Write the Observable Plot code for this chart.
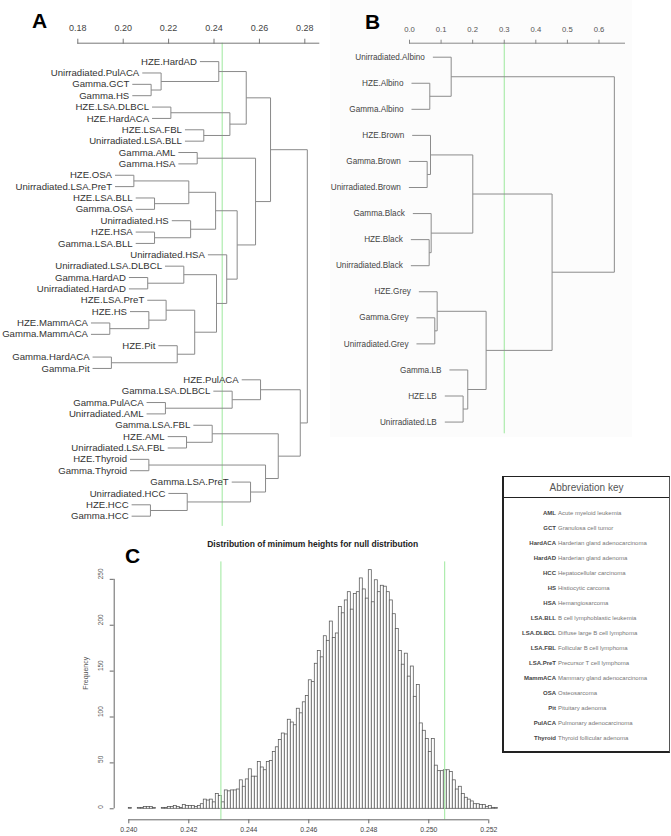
<!DOCTYPE html>
<html><head><meta charset="utf-8">
<script src="https://cdn.jsdelivr.net/npm/d3@7"></script>
<script src="https://cdn.jsdelivr.net/npm/@observablehq/plot@0.6"></script>
<style>
body{margin:0;background:#fff;font-family:'Liberation Sans',Arial,Helvetica,sans-serif;}
#root{position:relative;width:671px;height:836px;overflow:hidden;background:#fff;}
.abs{position:absolute;}
.plabel{position:absolute;font-weight:bold;font-size:21px;line-height:1;color:#000;}
#title{position:absolute;left:312.7px;top:539.8px;transform:translateX(-50%);white-space:nowrap;font-weight:bold;font-size:8.5px;line-height:1;color:#222;}
#key{position:absolute;left:502px;top:476px;width:168px;height:277px;box-sizing:border-box;border-top:1px solid #222;border-left:2px solid #222;border-bottom:2px solid #222;border-right:1px solid #555;background:#fff;}
#keyhead{height:20px;line-height:21px;text-align:center;font-size:10px;color:#555;border-bottom:1.5px solid #222;}
</style></head><body><div id="root"></div>
<script>
// ---------- Panel A: dendrogram of tumour types (nested [height, left, right]) ----------
const treeA = [0.2811,
  [0.2649,
    [0.2542,
      [0.2421, "HZE.HardAD", [0.2167, "Unirradiated.PulACA", [0.2123, "Gamma.GCT", "Gamma.HS"]]],
      [0.2470, [0.2210, "HZE.LSA.DLBCL", "HZE.HardACA"], [0.2355, "HZE.LSA.FBL", "Unirradiated.LSA.BLL"]]],
    [0.2583,
      [0.2326, "Gamma.AML", "Gamma.HSA"],
      [0.2502,
        [0.2407,
          [0.2289, [0.2047, "HZE.OSA", "Unirradiated.LSA.PreT"], [0.2138, "HZE.LSA.BLL", "Gamma.OSA"]],
          [0.2297, "Unirradiated.HS", [0.2138, "HZE.HSA", "Gamma.LSA.BLL"]]],
        [0.2456, "Unirradiated.HSA",
          [0.2411,
            [0.2267, "Unirradiated.LSA.DLBCL", [0.2108, "Gamma.HardAD", "Unirradiated.HardAD"]],
            [0.2315,
              [0.2189, "HZE.LSA.PreT", [0.2113, "HZE.HS", [0.1941, "HZE.MammACA", "Gamma.MammACA"]]],
              [0.2238, "HZE.Pit", [0.1948, "Gamma.HardACA", "Gamma.Pit"]]]]]]]],
  [0.2780,
    [0.2605, "HZE.PulACA", [0.2480, "Gamma.LSA.DLBCL", [0.2186, "Gamma.PulACA", "Unirradiated.AML"]]],
    [0.2683,
      [0.2392, "Gamma.LSA.FBL", [0.2279, "HZE.AML", "Unirradiated.LSA.FBL"]],
      [0.2627,
        [0.2113, "HZE.Thyroid", "Gamma.Thyroid"],
        [0.2561, "Gamma.LSA.PreT", [0.2282, "Unirradiated.HCC", [0.2120, "HZE.HCC", "Gamma.HCC"]]]]]]];
const hangA = 0.0083;
const ticksA = [0.18, 0.20, 0.22, 0.24, 0.26, 0.28];
const cutA = 0.2436;

// ---------- Panel B: dendrogram of coat colours ----------
const treeB = [0.6487,
  [0.132, "Unirradiated.Albino", [0.0643, "HZE.Albino", "Gamma.Albino"]],
  [0.4515,
    [0.2004,
      [0.0665, "HZE.Brown", [0.056, "Gamma.Brown", "Unirradiated.Brown"]],
      [0.0686, "Gamma.Black", [0.0623, "HZE.Black", "Unirradiated.Black"]]],
    [0.2426,
      [0.0876, "HZE.Grey", [0.0801, "Gamma.Grey", "Unirradiated.Grey"]],
      [0.1845, "Gamma.LB", [0.1698, "HZE.LB", "Unirradiated.LB"]]]]];
const hangB = 0.058;
const ticksB = [0, 0.1, 0.2, 0.3, 0.4, 0.5, 0.6];
const cutB = 0.3;

// ---------- Panel C: histogram of minimum heights ----------
const histStart = 0.2400;
const histBinWidth = 0.0001;
const histCounts = [1,0,0,1,1,2,2,2,1,0,0,1,1,2,2,3,2,1,4,3,3,3,2,3,5,10,9,10,7,16,14,7,20,19,20,20,21,31,24,32,
  43,35,35,51,45,42,51,52,62,67,75,82,81,97,94,91,109,104,116,123,140,138,158,172,165,188,183,204,186,191,
  220,213,227,236,217,234,236,251,239,229,260,225,249,236,243,242,236,227,212,196,172,157,169,144,155,122,135,93,85,76,
  62,76,47,41,41,42,42,40,31,21,24,16,12,10,8,5,5,4,4,2,3,1,1];
const ticksCx = [0.240, 0.242, 0.244, 0.246, 0.248, 0.250, 0.252];
const ticksCy = [0, 50, 100, 150, 200, 250];
const cutsC = [0.24307, 0.25053];
const titleC = "Distribution of minimum heights for null distribution";

// ---------- Abbreviation key ----------
const keyAbbr = ["AML","GCT","HardACA","HardAD","HCC","HS","HSA","LSA.BLL","LSA.DLBCL","LSA.FBL","LSA.PreT","MammACA","OSA","Pit","PulACA","Thyroid"];
const keyDesc = ["Acute myeloid leukemia","Granulosa cell tumor","Harderian gland adenocarcinoma","Harderian gland adenoma",
  "Hepatocellular carcinoma","Histiocytic carcoma","Hemangiosarcoma","B cell lymphoblastic leukemia","Diffuse large B cell lymphoma",
  "Follicular B cell lymphoma","Precursor T cell lymphoma","Mammary gland adenocarcinoma","Osteosarcoma","Pituitary adenoma",
  "Pulmonary adenocarcinoma","Thyroid follicular adenoma"];

// ================= drawing =================
const FONT = "'Liberation Sans', Arial, Helvetica, sans-serif";
const GREEN = "#9de89d";
const root = document.getElementById("root");
function place(node, left, top) {
  const d = document.createElement("div");
  d.className = "abs"; d.style.left = left + "px"; d.style.top = top + "px";
  d.appendChild(node); root.appendChild(d); return d;
}

function dendro(tree, hang) {
  const segs = [], leaves = [];
  let idx = 0;
  function walk(node) {
    if (typeof node === "string") return {leaf: true, name: node, y: idx++};
    const [h, a, b] = node;
    const kids = [walk(a), walk(b)];
    for (const k of kids) {
      const x1 = k.leaf ? h - hang : k.h;
      segs.push({x1, y1: k.y, x2: h, y2: k.y});
      if (k.leaf) leaves.push({name: k.name, x: x1, y: k.y});
    }
    segs.push({x1: h, y1: kids[0].y, x2: h, y2: kids[1].y});
    return {leaf: false, h, y: (kids[0].y + kids[1].y) / 2};
  }
  walk(tree);
  return {segs, leaves};
}

// Panel A
const dA = dendro(treeA, hangA);
const yDomA = [-1.62, 40.9];
const plotA = Plot.plot({
  width: 330, height: 530,
  marginLeft: 77.3, marginRight: 10.7, marginTop: 42.7, marginBottom: 4.1,
  x: {domain: [0.18, 0.2866]},
  y: {domain: yDomA, reverse: true, axis: null},
  style: {fontFamily: FONT, color: "#444", background: "transparent"},
  marks: [
    Plot.ruleX([cutA], {stroke: GREEN, strokeWidth: 1}),
    Plot.ruleY([yDomA[0]], {stroke: "#777", strokeWidth: 1}),
    Plot.axisX({anchor: "top", ticks: ticksA, tickSize: 5, tickPadding: 7, tickFormat: d3.format(".2f"), fontSize: 9, stroke: "#777", label: null}),
    Plot.link(dA.segs, {x1: "x1", y1: "y1", x2: "x2", y2: "y2", stroke: "#8a8a8a", strokeWidth: 1}),
    Plot.text(dA.leaves, {x: "x", y: "y", text: "name", textAnchor: "end", dx: -3, fontSize: 9.6, fill: "#333"})
  ]
});
place(plotA, 0, 0);

// Panel B
const dB = dendro(treeB, hangB);
const yDomB = [-0.537, 14.45];
const plotB = Plot.plot({
  width: 302, height: 437,
  marginLeft: 79, marginRight: 7, marginTop: 42.7, marginBottom: 3.7,
  x: {domain: [0, 0.684]},
  y: {domain: yDomB, reverse: true, axis: null},
  style: {fontFamily: FONT, color: "#555", background: "#fcfcfc"},
  marks: [
    Plot.ruleX([cutB], {stroke: GREEN, strokeWidth: 1}),
    Plot.ruleY([yDomB[0]], {stroke: "#888", strokeWidth: 1}),
    Plot.axisX({anchor: "top", ticks: ticksB, tickSize: 4, tickPadding: 7.5, tickFormat: d3.format(".1f"), fontSize: 7.7, stroke: "#888", label: null}),
    Plot.link(dB.segs, {x1: "x1", y1: "y1", x2: "x2", y2: "y2", stroke: "#8c8c8c", strokeWidth: 1}),
    Plot.text(dB.leaves, {x: "x", y: "y", text: "name", textAnchor: "end", dx: -8, fontSize: 8.2, fill: "#444"})
  ]
});
place(plotB, 330, 0);

// Panel C
const histData = histCounts.map((c, i) => ({x1: histStart + i * histBinWidth, x2: histStart + (i + 1) * histBinWidth, count: c}));
const xDomC = [0.2395133, 0.252057];
const yDomC = [-12, 269];
const plotC = Plot.plot({
  width: 500, height: 306,
  marginLeft: 113.7, marginRight: 10, marginTop: 31.4, marginBottom: 16.7,
  x: {domain: xDomC, label: null},
  y: {domain: yDomC, label: null},
  style: {fontFamily: FONT, color: "#444", background: "transparent"},
  marks: [
    Plot.rectY(histData, {x1: "x1", x2: "x2", y: "count", fill: "white", stroke: "#555", strokeWidth: 0.75}),
    Plot.ruleX(cutsC, {stroke: GREEN, strokeWidth: 1}),
    Plot.ruleY([yDomC[0]], {x1: d3.min(ticksCx), x2: d3.max(ticksCx), stroke: "#666"}),
    Plot.ruleX([xDomC[0]], {y1: d3.min(ticksCy), y2: d3.max(ticksCy), stroke: "#666"}),
    Plot.axisX({ticks: ticksCx, tickSize: 4, tickPadding: 3.5, tickFormat: d3.format(".3f"), fontSize: 6.9, stroke: "#666", label: null}),
    Plot.axisY({ticks: ticksCy, tickSize: 4, tickFormat: () => "", stroke: "#666", label: null}),
    Plot.text(ticksCy, {y: d => d, text: d => String(d), frameAnchor: "left", rotate: -90, dx: -13.5, fontSize: 6.5, fill: "#555"}),
    Plot.text(["Frequency"], {text: d => d, frameAnchor: "left", rotate: -90, dx: -28.7, dy: -1, fontSize: 7, fill: "#555"})
  ]
});
place(plotC, 0, 530);

// Titles / panel labels
for (const [t, l, tp] of [["A", 32, 10.3], ["B", 365, 10.5], ["C", 125, 545]]) {
  const d = document.createElement("div"); d.className = "plabel"; d.textContent = t;
  d.style.left = l + "px"; d.style.top = tp + "px"; root.appendChild(d);
}
const tdiv = document.createElement("div"); tdiv.id = "title"; tdiv.textContent = titleC; root.appendChild(tdiv);

// Key
const key = document.createElement("div"); key.id = "key";
const kh = document.createElement("div"); kh.id = "keyhead"; kh.textContent = "Abbreviation key"; key.appendChild(kh);
const plotKey = Plot.plot({
  width: 164, height: 251.5,
  marginLeft: 0, marginRight: 0, marginTop: 9, marginBottom: 5,
  y: {type: "point", domain: keyAbbr, padding: 0, axis: null},
  style: {fontFamily: FONT, background: "transparent"},
  marks: [
    Plot.text(keyAbbr, {y: d => d, text: d => d, frameAnchor: "left", dx: 51.5, textAnchor: "end", fontWeight: "bold", fontSize: 6, fill: "#444"}),
    Plot.text(keyDesc, {y: (d, i) => keyAbbr[i], text: d => d, frameAnchor: "left", dx: 53.5, textAnchor: "start", fontSize: 6, fill: "#777"})
  ]
});
key.appendChild(plotKey);
root.appendChild(key);
</script></body></html>
